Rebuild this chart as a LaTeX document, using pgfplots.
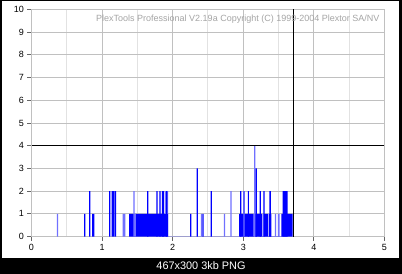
\documentclass[border=0pt]{standalone}
\usepackage{fontspec}
\setmainfont{Liberation Sans}
\usepackage{pgfplots}
\pgfplotsset{compat=1.18}
\definecolor{gridgrey}{RGB}{192,192,192}
\definecolor{minorgrey}{RGB}{226,226,226}
\definecolor{darkblue}{RGB}{0,0,255}
\definecolor{lightblue}{RGB}{112,112,255}
\definecolor{titlegrey}{RGB}{165,165,165}
\begin{document}
\begin{tikzpicture}
\fill[black] (-31.5bp,-37.5bp) rectangle (370.5bp,236.5bp);
\fill[white] (-29.5bp,-21.5bp) rectangle (367bp,235.5bp);
\node[white, inner sep=0pt, font=\fontsize{10.9bp}{12bp}\selectfont] at (169.5bp,-29.5bp) {467x300 3kb PNG};
\begin{axis}[
  at={(0,0)}, anchor=south west,
  scale only axis, width=353bp, height=227bp,
  xmin=0, xmax=5, ymin=0, ymax=10,
  xtick={0,1,2,3,4,5}, ytick={0,1,2,3,4,5,6,7,8,9,10},
  minor xtick={0.5,1.5,2.5,3.5,4.5},
  grid=both,
  major grid style={draw=gridgrey, line width=1bp},
  minor grid style={draw=minorgrey, line width=1bp},
  axis line style={draw=gridgrey, line width=1bp},
  tick style={draw=black!60, line width=0.8bp},
  tick align=outside, major tick length=4bp, minor tick length=0pt,
  tick pos=left,
  ticklabel style={font=\fontsize{9bp}{10bp}\selectfont},
  /pgf/number format/assume math mode=true,
]
% light areas
\addplot[const plot, fill=lightblue, draw=none] coordinates {(1.89,2) (1.934,0) (3.49,1) (3.515,0)} \closedcycle;
% dark areas at height 1
\addplot[const plot, fill=darkblue, draw=none] coordinates {(1.382,1) (1.934,0) (2.94,1) (3.146,0) (3.16,1) (3.27,0) (3.287,1) (3.35,0) (3.364,1) (3.397,0) (3.538,1) (3.698,0)} \closedcycle;
% dark areas at height 2 and 3
\addplot[const plot, fill=darkblue, draw=none] coordinates {(2.954,2) (2.972,0) (3.0,2) (3.02,0) (3.066,2) (3.08,0) (3.17,3) (3.194,0) (3.368,2) (3.392,0) (3.556,2) (3.627,0)} \closedcycle;
% dark spikes
\addplot[ybar, bar width=1.2bp, bar shift=0pt, fill=darkblue, draw=none] coordinates {
(0.755,1) (0.826,2) (0.868,1) (0.882,1) (1.108,2) (1.145,2) (1.165,2) (1.19,2)
(1.646,2) (1.779,2) (1.82,2) (1.855,2) (1.87,2) (1.915,2)
(2.255,1) (2.349,3) (2.43,1) (2.547,2) (3.24,2) (3.293,2)};
% light spikes
\addplot[ybar, bar width=1.2bp, bar shift=0pt, fill=lightblue, draw=none] coordinates {
(0.368,1) (1.30,1) (1.32,1) (1.453,2) (1.47,1) (2.406,1) (2.735,1) (2.826,2) (3.163,4) (3.457,1) (3.01,2)};
% marker lines
\addplot[black, line width=1bp, mark=none] coordinates {(3.712,0) (3.712,10)};
\addplot[black, line width=1bp, mark=none] coordinates {(0,4) (5,4)};
\node[anchor=east, inner sep=0pt, text=titlegrey, font=\fontsize{9bp}{10bp}\selectfont] at (axis cs:4.93,9.56) {PlexTools Professional V2.19a Copyright (C) 1999-2004 Plextor SA/NV};
\end{axis}
\end{tikzpicture}
\end{document}
